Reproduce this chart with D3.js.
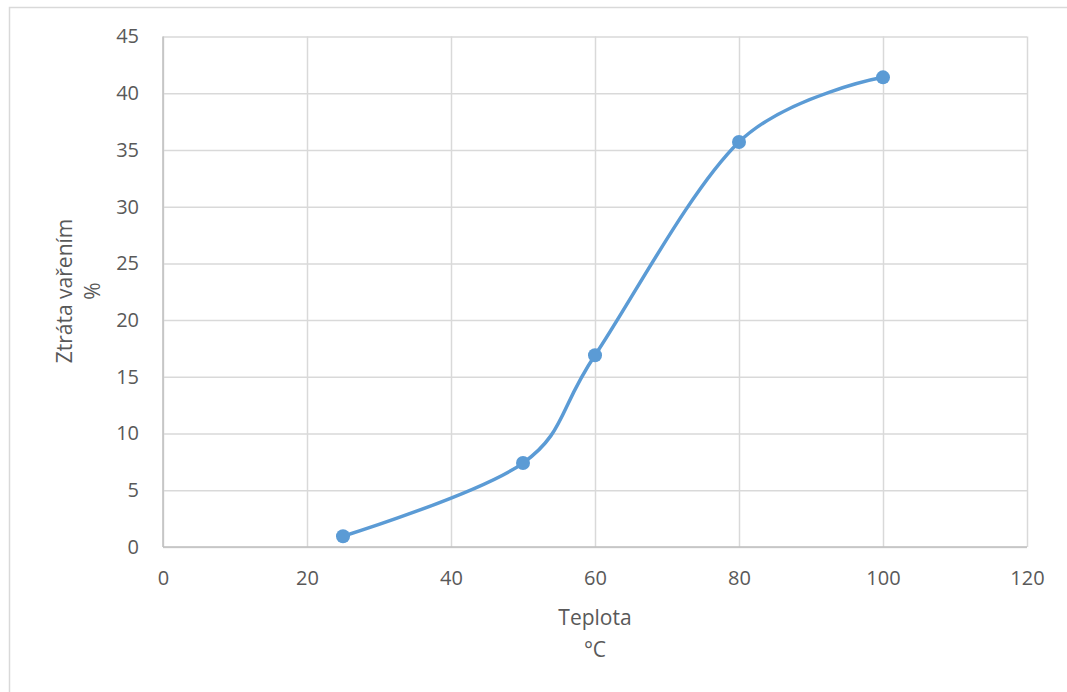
<!DOCTYPE html>
<html><head><meta charset="utf-8">
<script src="https://cdn.jsdelivr.net/npm/d3@7"></script>
<style>body{margin:0;background:#fff}svg{display:block}</style>
</head><body>
<script>
const temps = [25, 50, 60, 80, 100];
const losses = [0.95, 7.4, 16.9, 35.7, 41.4];
const xTicks = [0, 20, 40, 60, 80, 100, 120];
const yTicks = [0, 5, 10, 15, 20, 25, 30, 35, 40, 45];
const xTitle = ["Teplota", "°C"];
const yTitle = ["Ztráta vařením", "%"];

const W = 1067, H = 692;
const svg = d3.select("body").append("svg").attr("width", W).attr("height", H);
svg.append("rect").attr("x", 9.5).attr("y", 7.5).attr("width", W).attr("height", H)
  .attr("fill", "#fff").attr("stroke", "#d9d9d9").attr("stroke-width", 1.5);

const L = 163, R = 1027, T = 36.5, B = 547;
const x = d3.scaleLinear().domain([0, 120]).range([L, R]);
const y = d3.scaleLinear().domain([0, 45]).range([B, T]);
const font = "'Open Sans', sans-serif";
const tc = "#595959";

// gridlines
const gx = svg.append("g").attr("transform", `translate(0,${B})`)
  .call(d3.axisBottom(x).tickValues(xTicks).tickSize(-(B - T)).tickFormat(""));
gx.select(".domain").remove();
gx.selectAll("line").attr("stroke", "#d9d9d9").attr("stroke-width", 1.5);
const gy = svg.append("g").attr("transform", `translate(${L},0)`)
  .call(d3.axisLeft(y).tickValues(yTicks).tickSize(-(R - L)).tickFormat(""));
gy.select(".domain").remove();
gy.selectAll("line").attr("stroke", "#d9d9d9").attr("stroke-width", 1.5);

// axis lines
svg.append("line").attr("x1", L).attr("x2", R).attr("y1", B).attr("y2", B)
  .attr("stroke", "#bfbfbf").attr("stroke-width", 1.5);
svg.append("line").attr("x1", L).attr("x2", L).attr("y1", T).attr("y2", B)
  .attr("stroke", "#bfbfbf").attr("stroke-width", 1.5);

// tick labels
const ax = svg.append("g").attr("transform", `translate(0,${B})`)
  .call(d3.axisBottom(x).tickValues(xTicks).tickSize(0).tickPadding(24));
ax.select(".domain").remove();
ax.selectAll("text").attr("font-family", font).attr("font-size", 20).attr("fill", tc);
const ay = svg.append("g").attr("transform", `translate(${L},0)`)
  .call(d3.axisLeft(y).tickValues(yTicks).tickSize(0).tickPadding(24));
ay.select(".domain").remove();
ay.selectAll("text").attr("font-family", font).attr("font-size", 20).attr("fill", tc);

// titles
svg.append("g").selectAll("text").data(xTitle).join("text")
  .attr("x", 595).attr("y", (d, i) => 625 + i * 32).attr("text-anchor", "middle")
  .attr("font-family", font).attr("font-size", 21).attr("fill", tc).text(d => d);
svg.append("g").selectAll("text").data(yTitle).join("text")
  .attr("transform", (d, i) => `translate(${72 + i * 28},291) rotate(-90)`)
  .attr("text-anchor", "middle")
  .attr("font-family", font).attr("font-size", 21).attr("fill", tc).text(d => d);

// line
const pts = temps.map((t, i) => [t, losses[i]]);
svg.append("path").datum(pts)
  .attr("d", d3.line().x(d => x(d[0])).y(d => y(d[1])).curve(d3.curveCardinal.tension(0)))
  .attr("fill", "none").attr("stroke", "#5b9bd5").attr("stroke-width", 3.5)
  .attr("stroke-linecap", "round");
svg.append("g").selectAll("circle").data(pts).join("circle")
  .attr("cx", d => x(d[0])).attr("cy", d => y(d[1])).attr("r", 7)
  .attr("fill", "#5b9bd5");
</script>
</body></html>
